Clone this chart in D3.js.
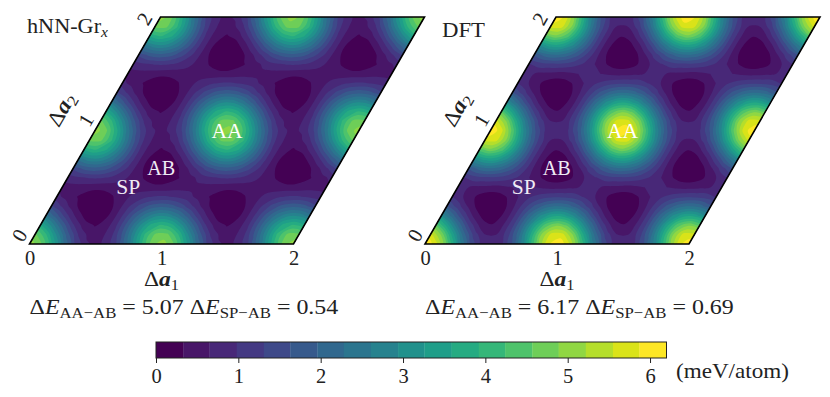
<!DOCTYPE html>
<html>
<head>
<meta charset="utf-8">
<script src="https://cdn.jsdelivr.net/npm/d3@7"></script>
<style>
  body { margin: 0; background: #fff; }
  text { font-family: "Liberation Serif", serif; fill: #222; }
</style>
</head>
<body>
<div id="chart"></div>
<script>
/* DATA */
// energy (meV/atom) read off one repeat of each map, rows = a2 steps, columns = a1 steps (1/12 of a cell)
const hnnEnergy = [
  [5.07,4.67,3.66,2.43,1.39,.75,.54,.75,1.39,2.43,3.66,4.67],
  [4.67,3.97,2.86,1.74,.92,.51,.51,.92,1.74,2.86,3.97,4.67],
  [3.66,2.86,1.87,1.01,.46,.30,.46,1.01,1.87,2.86,3.66,3.97],
  [2.43,1.74,1.01,.43,.12,.12,.43,1.01,1.74,2.43,2.86,2.86],
  [1.39,.92,.46,.12,0,.12,.46,.92,1.39,1.74,1.87,1.74],
  [.75,.51,.30,.12,.12,.30,.51,.75,.92,1.01,1.01,.92],
  [.54,.51,.46,.43,.46,.51,.54,.51,.46,.43,.46,.51],
  [.75,.92,1.01,1.01,.92,.75,.51,.30,.12,.12,.30,.51],
  [1.39,1.74,1.87,1.74,1.39,.92,.46,.12,0,.12,.46,.92],
  [2.43,2.86,2.86,2.43,1.74,1.01,.43,.12,.12,.43,1.01,1.74],
  [3.66,3.97,3.66,2.86,1.87,1.01,.46,.30,.46,1.01,1.87,2.86],
  [4.67,4.67,3.97,2.86,1.74,.92,.51,.51,.92,1.74,2.86,3.97]
];
const dftEnergy = [
  [6.17,5.68,4.44,2.95,1.70,.94,.69,.94,1.70,2.95,4.44,5.68],
  [5.68,4.82,3.46,2.12,1.14,.65,.65,1.14,2.12,3.46,4.82,5.68],
  [4.44,3.46,2.27,1.23,.57,.35,.57,1.23,2.27,3.46,4.44,4.82],
  [2.95,2.12,1.23,.53,.15,.15,.53,1.23,2.12,2.95,3.46,3.46],
  [1.70,1.14,.57,.15,0,.15,.57,1.14,1.70,2.12,2.27,2.12],
  [.94,.65,.35,.15,.15,.35,.65,.94,1.14,1.23,1.23,1.14],
  [.69,.65,.57,.53,.57,.65,.69,.65,.57,.53,.57,.65],
  [.94,1.14,1.23,1.23,1.14,.94,.65,.35,.15,.15,.35,.65],
  [1.70,2.12,2.27,2.12,1.70,1.14,.57,.15,0,.15,.57,1.14],
  [2.95,3.46,3.46,2.95,2.12,1.23,.53,.15,.15,.53,1.23,2.12],
  [4.44,4.82,4.44,3.46,2.27,1.23,.57,.35,.57,1.23,2.27,3.46],
  [5.68,5.68,4.82,3.46,2.12,1.14,.65,.65,1.14,2.12,3.46,4.82]
];
const bandLevels = [0,.33,.65,.98,1.31,1.63,1.96,2.28,2.61,2.94,3.26,3.59,3.92,4.24,4.57,4.89,5.22,5.55,5.87,6.2];
const axisTicks = [0, 1, 2];
const colorbarTicks = [0, 1, 2, 3, 4, 5, 6];
const stackingLabels = ["AA", "AB", "SP"];
const stackingU = [1, 2 / 3, 1 / 2];
const stackingV = [1, 2 / 3, 1 / 2];

/* CONSTANTS */
const width = 830, height = 397, fontSize = 22, tickSize = 20.5;
const cellsPerUnit = 12, gridSize = 2 * cellsPerUnit + 1;
const a2Nudge = [2, 4, -10]; // the a2 tick labels are not quite centred on their ticks

const svg = d3.select("#chart").append("svg")
  .attr("width", width)
  .attr("height", height)
  .style("display", "block");

// text helper: parts may be italic, bold or subscript, width is forced to match the reference's wider font
function addText(parent, parts, opts) {
  const text = parent.append("text")
    .attr("text-anchor", opts.anchor || "start")
    .style("font-size", fontSize + "px");
  if (opts.fill) text.style("fill", opts.fill);
  let lowered = false;
  parts.forEach(p => {
    const span = text.append("tspan").text(p.t);
    if (p.italic) span.style("font-style", "italic");
    if (p.bold) span.style("font-weight", "bold");
    if (p.sub) span.style("font-size", fontSize * 0.7 + "px");
    if (p.sub && !lowered) { span.attr("dy", 3.5); lowered = true; }
    if (!p.sub && lowered) { span.attr("dy", -3.5); lowered = false; }
  });
  const k = opts.width ? opts.width / text.node().getComputedTextLength() : 1;
  text.attr("transform", `translate(${opts.x},${opts.y}) rotate(${opts.angle || 0}) scale(${k},1)`);
  return text;
}

function energyParts(values) {
  return [
    { t: "Δ" }, { t: "E", italic: true }, { t: "AA−AB", sub: true },
    { t: " = " + values[0] + " Δ" }, { t: "E", italic: true }, { t: "SP−AB", sub: true },
    { t: " = " + values[1] }
  ];
}

/* PANELS */
function drawPanel(panel) {
  const g = svg.append("g").attr("transform", `translate(${panel.x},244)`);

  // a1 runs along the bottom, a2 leans over to the right
  const a1X = d3.scaleLinear().domain([0, 2]).range([0, 264]);
  const a2X = d3.scaleLinear().domain([0, 2]).range([0, 131]);
  const a2Y = d3.scaleLinear().domain([0, 2]).range([0, -227]);
  const a2Len = d3.scaleLinear().domain([0, 2]).range([0, Math.hypot(131, 227)]);
  const gridToUnit = d3.scaleLinear().domain([0.5, gridSize - 0.5]).range([0, 2]);

  // contour rings come back in grid units, the curve rounds off the 1/12 cell steps
  const ringLine = d3.line()
    .x(d => a1X(gridToUnit(d[0])) + a2X(gridToUnit(d[1])))
    .y(d => a2Y(gridToUnit(d[1])))
    .curve(d3.curveCatmullRomClosed.alpha(0.5));
  const contourPath = c => c.coordinates.flat().map(ring => ringLine(ring.slice(0, -1))).join("");

  // repeat the one stored cell over the 0-2 range of both axes
  const values = [];
  for (let j = 0; j < gridSize; j++) {
    for (let i = 0; i < gridSize; i++) {
      values.push(panel.energy[j % cellsPerUnit][i % cellsPerUnit]);
    }
  }

  const outline = [[0, 0], [2, 0], [2, 2], [0, 2]]
    .map(d => [a1X(d[0]) + a2X(d[1]), a2Y(d[1])].join(","))
    .join(" ");

  g.append("clipPath").attr("id", panel.id)
    .append("polygon").attr("points", outline);

  const contours = d3.contours()
    .size([gridSize, gridSize])
    .thresholds(bandLevels.slice(0, -1))(values);

  const clipped = g.append("g").attr("clip-path", `url(#${panel.id})`);
  clipped.append("polygon").attr("points", outline).attr("fill", bandColor(0));
  clipped.selectAll("path")
    .data(contours)
    .join("path")
    .attr("d", contourPath)
    .attr("fill", (d, i) => bandColor(i));

  g.append("polygon")
    .attr("points", outline)
    .attr("fill", "none")
    .attr("stroke", "#000")
    .attr("stroke-width", 1.6);

  // bottom axis
  const bottomAxis = g.append("g")
    .attr("transform", "translate(0,6.5)")
    .call(d3.axisBottom(a1X).tickValues(axisTicks).tickSize(0).tickPadding(0).tickFormat(d3.format("d")));
  bottomAxis.select(".domain").remove();
  bottomAxis.selectAll("text").style("font-size", tickSize + "px").attr("dy", "0.72em");

  // left axis: same thing, turned along a2
  const angle = -Math.atan2(227, 131) * 180 / Math.PI;
  const leftAxis = g.append("g")
    .attr("transform", `rotate(${angle})`)
    .call(d3.axisTop(a2Len).tickValues(axisTicks).tickSize(0).tickPadding(6).tickFormat(d3.format("d")));
  leftAxis.select(".domain").remove();
  leftAxis.selectAll("text")
    .style("font-size", tickSize + "px")
    .attr("x", d => a2Nudge[d]);

  addText(g, [{ t: "Δ" }, { t: "a", italic: true, bold: true }, { t: "1", sub: true }],
    { x: 132, y: 42, anchor: "middle", width: 35 });
  addText(g, [{ t: "Δ" }, { t: "a", italic: true, bold: true }, { t: "2", sub: true }],
    { x: 38, y: -131, anchor: "middle", width: 35, angle });

  stackingLabels.forEach((label, i) => {
    addText(g, [{ t: label }], {
      x: a1X(stackingU[i]) + a2X(stackingV[i]),
      y: a2Y(stackingV[i]) + 7,
      anchor: "middle",
      fill: i === 0 ? "#fff" : "#efeaf4",
      width: panel.labelWidths[i]
    });
  });

  addText(g, panel.title, { x: panel.titleX, y: panel.titleY, width: panel.titleWidth });
  addText(g, energyParts(panel.stats), { x: 0, y: 70, width: 309 });
}

const bandColor = i => d3.interpolateViridis(i / (bandLevels.length - 2));

drawPanel({
  id: "clip-hnn", x: 29.5, energy: hnnEnergy, stats: ["5.07", "0.54"],
  title: [{ t: "hNN-Gr" }, { t: "x", italic: true, sub: true }],
  titleX: -2.5, titleY: -211, titleWidth: 81, labelWidths: [31, 28, 24]
});
drawPanel({
  id: "clip-dft", x: 425, energy: dftEnergy, stats: ["6.17", "0.69"],
  title: [{ t: "DFT" }],
  titleX: 17, titleY: -207, titleWidth: 43, labelWidths: [31, 28, 24]
});

/* COLORBAR */
const barX = d3.scaleLinear().domain([0, 6.2]).range([156, 666.5]);
const barTop = 342, barHeight = 16;

svg.append("g").selectAll("rect")
  .data(bandLevels.slice(0, -1))
  .join("rect")
  .attr("x", d => barX(d))
  .attr("y", barTop)
  .attr("width", (d, i) => barX(bandLevels[i + 1]) - barX(d) + 0.3)
  .attr("height", barHeight)
  .attr("fill", (d, i) => bandColor(i));

svg.append("rect")
  .attr("x", barX(0))
  .attr("y", barTop)
  .attr("width", barX(6.2) - barX(0))
  .attr("height", barHeight)
  .attr("fill", "none")
  .attr("stroke", "#222")
  .attr("stroke-width", 1);

const barAxis = svg.append("g")
  .attr("transform", `translate(0,${barTop + barHeight})`)
  .call(d3.axisBottom(barX).tickValues(colorbarTicks).tickSize(5).tickPadding(5).tickFormat(d3.format("d")));
barAxis.select(".domain").remove();
barAxis.selectAll("line").attr("stroke", "#222");
barAxis.selectAll("text").style("font-size", tickSize + "px");

addText(svg, [{ t: "(meV/atom)" }], { x: 676, y: 378, width: 113 });
</script>
</body>
</html>
